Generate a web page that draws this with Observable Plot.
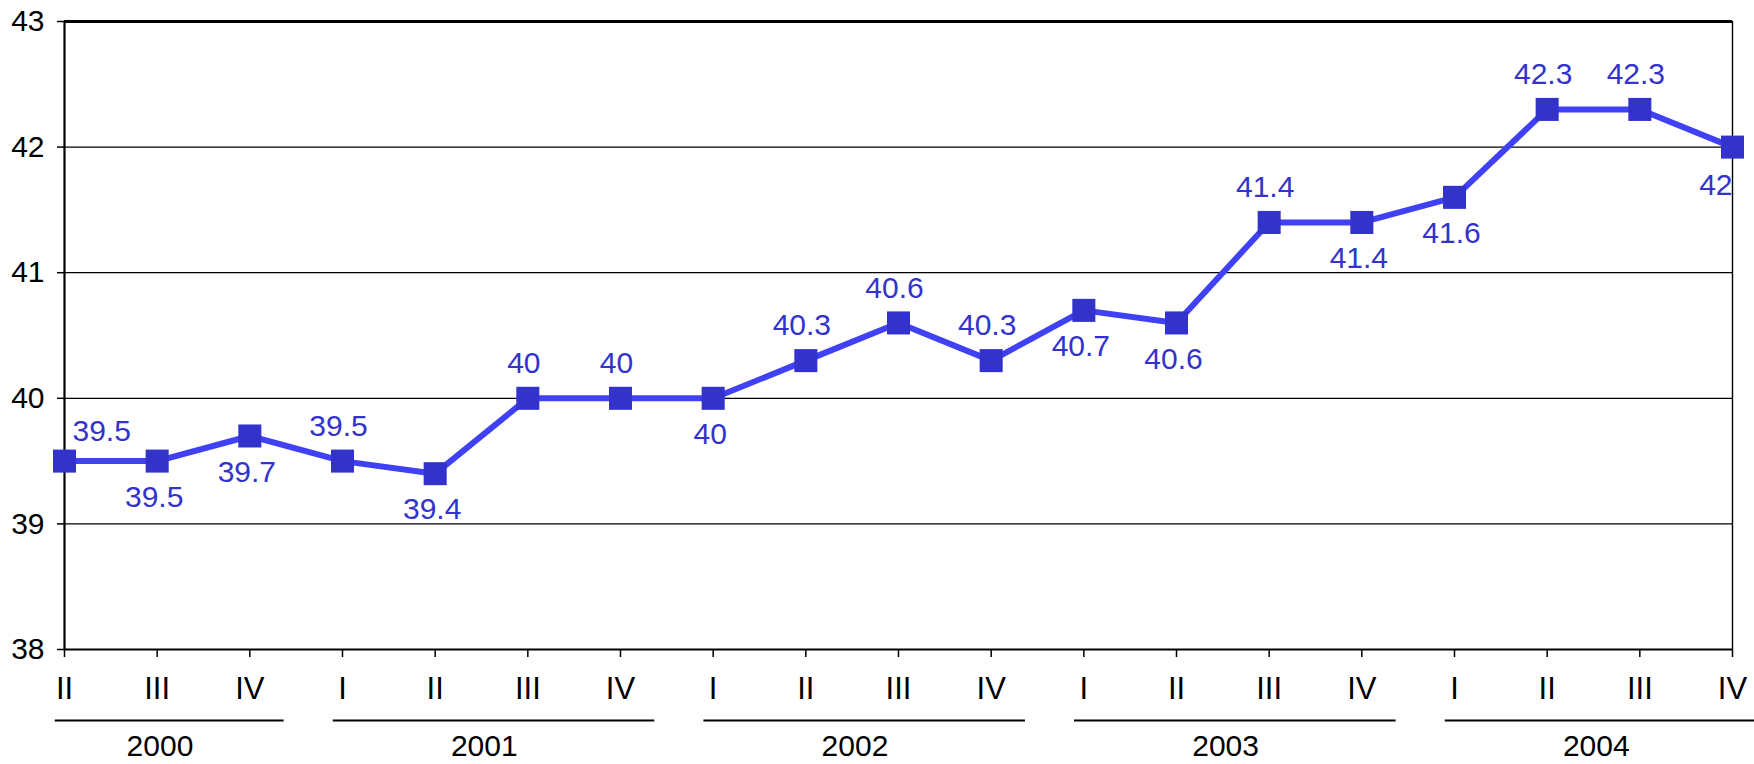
<!DOCTYPE html>
<html>
<head>
<meta charset="utf-8">
<script src="https://cdn.jsdelivr.net/npm/d3@7"></script>
<script src="https://cdn.jsdelivr.net/npm/@observablehq/plot@0.6"></script>
<style>
  body { margin: 0; background: #fff; }
  #chart svg { display: block; }
</style>
</head>
<body>
<div id="chart"></div>
<script>
// quarterly values, II 2000 .. IV 2004
const quarters = ["II", "III", "IV", "I", "II", "III", "IV", "I", "II", "III", "IV", "I", "II", "III", "IV", "I", "II", "III", "IV"]
const values = [39.5, 39.5, 39.7, 39.5, 39.4, 40, 40, 40, 40.3, 40.6, 40.3, 40.7, 40.6, 41.4, 41.4, 41.6, 42.3, 42.3, 42]
const labelSide = ["above", "below", "below", "above", "below", "above", "above", "below", "above", "above", "above", "below", "below", "above", "below", "below", "above", "above", "below"]
const years = ["2000", "2001", "2002", "2003", "2004"]
const yearFirst = [0, 3, 7, 11, 15]
const yearLast = [2, 6, 10, 14, 18]
const yTicks = [38, 39, 40, 41, 42, 43]

const data = values.map((v, i) => ({ i, v, q: quarters[i], side: labelSide[i] }))
const yearRows = years.map((year, k) => ({ year, first: yearFirst[k], last: yearLast[k] }))
const last = values.length - 1

const blue = "#3333cc"
const labelFont = { fill: blue, fontSize: 30, text: d => String(d.v) }

const chart = Plot.plot({
    width: 1754,
    height: 764,
    marginLeft: 64,
    marginRight: 22,
    marginTop: 21,
    marginBottom: 115,
    x: { domain: [0, last] },
    y: { domain: [38, 43] },
    style: { fontFamily: "'Liberation Sans', Arial, sans-serif", background: "#fff", color: "#000" },
    marks: [
        // grid and frame
        Plot.gridY(yTicks.slice(1, -1), { stroke: "#000", strokeOpacity: 1, strokeWidth: 1.3 }),
        Plot.ruleY([43], { stroke: "#000", strokeWidth: 2.8 }),
        Plot.ruleX([last], { stroke: "#000", strokeWidth: 1.4 }),
        Plot.ruleX([0], { stroke: "#000", strokeWidth: 2.2 }),
        Plot.ruleY([38], { stroke: "#000", strokeWidth: 2.2 }),

        Plot.axisY({ ticks: yTicks, tickSize: 7, tickPadding: 13, fontSize: 30, tickFormat: d => d, label: null, strokeWidth: 1.5 }),
        Plot.axisX({
            ticks: d3.range(values.length), tickSize: 8, tickPadding: 19,
            tickFormat: i => quarters[i], label: null, fontSize: 31,
            fontFamily: "'Liberation Sans Narrow', 'Arial Narrow', 'Liberation Sans', sans-serif",
            strokeWidth: 1.5
        }),

        // year groups under the quarters
        Plot.ruleY(yearRows, { y: () => 38, x1: d => d.first - 0.1, x2: d => d.last + 0.37, dy: 71, stroke: "#000", strokeWidth: 2.2 }),
        Plot.text(yearRows, { x: d => (d.first + d.last) / 2 + 0.03, y: () => 38, dy: 97, text: "year", fontSize: 30, lineAnchor: "middle", fill: "#000" }),

        // series
        Plot.line(data, { x: "i", y: "v", stroke: "#4040f4", strokeWidth: 6 }),
        Plot.dot(data, { x: "i", y: "v", symbol: "square", r: 13, fill: blue, stroke: "none" }),

        // value labels
        Plot.text(data.filter(d => d.side === "above" && d.i > 0 && d.i < last), { x: "i", y: "v", dy: -35, dx: -4, ...labelFont }),
        Plot.text(data.filter(d => d.side === "below" && d.i > 0 && d.i < last), { x: "i", y: "v", dy: 36, dx: -3, ...labelFont }),
        Plot.text([data[0]], { x: "i", y: "v", dy: -30, dx: 8, textAnchor: "start", ...labelFont }),
        Plot.text([data[last]], { x: "i", y: "v", dy: 38, dx: 0, textAnchor: "end", ...labelFont }),
    ],
})

d3.select("#chart").append(() => chart)
</script>
</body>
</html>
